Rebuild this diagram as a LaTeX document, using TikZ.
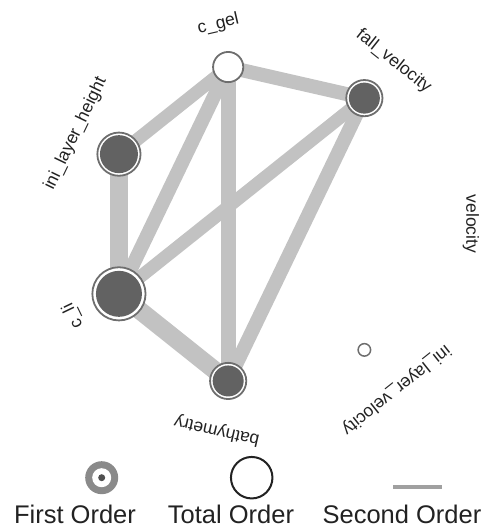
\documentclass[tikz,border=0pt]{standalone}
\usepackage{fontspec}
\setmainfont{Liberation Sans}
\usetikzlibrary{backgrounds}
\definecolor{edgegray}{HTML}{C2C2C2}
\definecolor{ringgray}{HTML}{6E6E6E}
\definecolor{firstgray}{HTML}{626262}
\definecolor{leggray}{HTML}{8A8A8A}
\definecolor{dotgray}{HTML}{505050}
\definecolor{linegray}{HTML}{A0A0A0}
\definecolor{txt}{HTML}{222222}
\begin{document}
\begin{tikzpicture}[x=1pt,y=1pt,
  total/.style={circle, inner sep=0pt, outer sep=0pt, draw=ringgray, line width=1.8pt, fill=white, minimum size=#1},
  first/.style={circle, inner sep=0pt, outer sep=0pt, fill=firstgray, minimum size=#1},
  so/.style={draw=edgegray, line width=#1, line cap=butt},
  lab/.style={font=\fontsize{17.5}{20}\selectfont, inner sep=0pt, text=txt},
  leg/.style={font=\fontsize{25.5}{30}\selectfont, inner sep=0pt, anchor=base, text=txt}]
\useasboundingbox (0,0) rectangle (489,528);
\coordinate (C) at (264,304);
% total order (outer) and first order (inner) circles
\node[total=30.2] (cgel) at ([shift={(102.86:161)}]C) {};
\node[total=36.2] (fallv) at ([shift={(51.43:161)}]C) {};
\node[first=31] (fallvf) at (fallv) {};
\node[total=43.2] (ilh) at ([shift={(154.29:161)}]C) {};
\node[first=38] (ilhf) at (ilh) {};
\node[total=53.2] (cli) at ([shift={(205.71:161)}]C) {};
\node[first=46] (clif) at (cli) {};
\node[total=36.2] (bath) at ([shift={(257.14:161)}]C) {};
\node[first=31] (bathf) at (bath) {};
\node[total=12.5, line width=1.5pt] (ilv) at ([shift={(308.57:161)}]C) {};
\coordinate (vel) at ([shift={(0:161)}]C);
% second order connectors
\begin{scope}[on background layer]
\draw[so=14] (cgel.center) -- (fallv.center);
\draw[so=13] (cgel.center) -- (ilh.center);
\draw[so=14] (cgel.center) -- (cli.center);
\draw[so=15] (cgel.center) -- (bath.center);
\draw[so=13] (fallv.center) -- (cli.center);
\draw[so=14] (fallv.center) -- (bath.center);
\draw[so=18] (ilh.center) -- (cli.center);
\draw[so=18] (cli.center) -- (bath.center);
\end{scope}
% labels
\node[lab, rotate=12.86] (lcgel) at ([shift={(102.86:205)}]C) {c\_gel};
\node[lab, rotate=-38.57] (lfallv) at ([shift={(51.43:208)}]C) {fall\_velocity};
\node[lab, rotate=64.29] (lilh) at ([shift={(154.29:209)}]C) {ini\_layer\_height};
\node[lab, rotate=-90] (lvel) at ([shift={(0:207)}]C) {velocity};
\node[lab, rotate=115.71] (lcli) at ([shift={(205.71:212)}]C) {c\_li};
\node[lab, rotate=167.14] (lbath) at ([shift={(257.14:212)}]C) {bathymetry};
\node[lab, rotate=218.57] (lilv) at ([shift={(308.57:212)}]C) {ini\_layer\_velocity};
% legend
\node[circle, fill=leggray, minimum size=33, inner sep=0pt] (legf) at (101.7,50.3) {};
\node[circle, fill=white, minimum size=19, inner sep=0pt] (legfw) at (legf) {};
\node[circle, fill=dotgray, minimum size=7, inner sep=0pt] (legfd) at (legf) {};
\node[circle, draw=txt, line width=2pt, minimum size=41.5, inner sep=0pt] (legt) at (251.7,50.3) {};
\coordinate (legs1) at (393,40.7);
\coordinate (legs2) at (441.7,40.7);
\draw[draw=linegray, line width=4pt] (legs1) -- (legs2);
\node[leg] (tfirst) at (75,5) {First Order};
\node[leg] (ttotal) at (231,5) {Total Order};
\node[leg] (tsecond) at (402,5) {Second Order};
\end{tikzpicture}
\end{document}
